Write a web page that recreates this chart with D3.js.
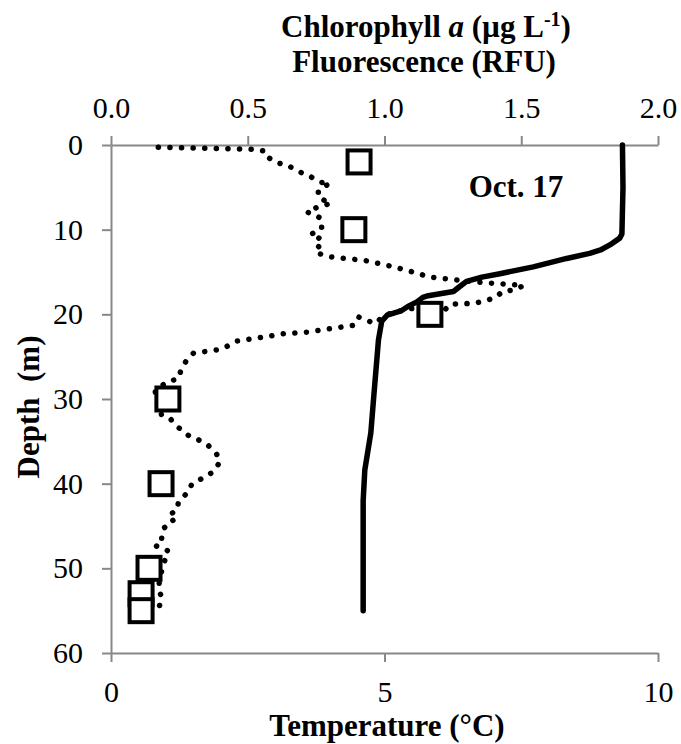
<!DOCTYPE html>
<html>
<head>
<meta charset="utf-8">
<script src="https://cdn.jsdelivr.net/npm/d3@7"></script>
<style>
  body { margin: 0; background: #fff; }
  svg text { font-family: "Liberation Serif", "Times New Roman", Tinos, "DejaVu Serif", serif; }
  .axis path, .axis line { stroke: #888; stroke-width: 2; }
  .axis text { font-size: 30px; fill: #000; }
  .title { font-size: 31px; font-weight: bold; }
</style>
</head>
<body>
<div id="graph"></div>
<script>
// temperature profile (bottom axis, °C)
var tempDepth = [0, 5, 10.5, 11, 11.8, 12.4, 12.8, 13.4, 14.4, 15.2, 15.6, 16.1, 16.6, 17.3, 17.8, 18.0, 18.5, 19.1, 19.6, 20.1, 20.8, 23, 30, 34, 36, 38.4, 42, 50, 55];
var tempC = [9.35, 9.36, 9.34, 9.3, 9.12, 8.95, 8.75, 8.33, 7.72, 7.11, 6.78, 6.5, 6.4, 6.26, 5.8, 5.7, 5.6, 5.42, 5.3, 5.05, 4.95, 4.89, 4.80, 4.75, 4.70, 4.64, 4.61, 4.61, 4.61];

// fluorescence profile (top axis, RFU)
var fluorDepth = [0.26, 0.5, 0.73, 1.36, 2.1, 2.34, 3.2, 3.7, 4.4, 4.5, 5.4, 6.2, 6.9, 7.3, 7.9, 8.4, 8.7, 9.9, 10.5, 10.8, 11.7, 12.25, 12.8, 13.2, 13.35, 13.6, 14.2, 14.8, 15.6, 15.9, 16.07, 16.3, 16.4, 16.6, 17.1, 17.3, 17.96, 18.35, 18.7, 18.8, 19.5, 19.3, 20.1, 21.1, 20.3, 21.3, 21.7, 21.9, 22.1, 22.3, 22.75, 23.15, 23.8, 24.2, 24.6, 25.4, 26.4, 27.6, 28.0, 29.0, 30.5, 31.9, 32.3, 33.2, 34.3, 34.8, 35.5, 36.5, 37.4, 38.6, 39.4, 40.06, 41.0, 41.7, 42.3, 43.2, 43.7, 44.4, 45.3, 46.5, 47.3, 47.96, 48.4, 49.6, 51, 52.4, 53.4, 55.0];
var fluorRFU = [0.173, 0.52, 0.563, 0.569, 0.606, 0.642, 0.691, 0.728, 0.764, 0.80, 0.758, 0.758, 0.804, 0.758, 0.716, 0.752, 0.77, 0.77, 0.734, 0.764, 0.746, 0.77, 0.758, 0.80, 0.837, 0.922, 1.008, 1.081, 1.166, 1.25, 1.294, 1.38, 1.43, 1.508, 1.477, 1.43, 1.41, 1.373, 1.33, 1.24, 1.22, 1.093, 1.0, 0.965, 0.904, 0.886, 0.80, 0.758, 0.716, 0.63, 0.545, 0.46, 0.423, 0.386, 0.301, 0.277, 0.258, 0.246, 0.204, 0.161, 0.17, 0.185, 0.216, 0.24, 0.283, 0.319, 0.356, 0.386, 0.399, 0.374, 0.332, 0.295, 0.283, 0.258, 0.246, 0.24, 0.21, 0.228, 0.191, 0.185, 0.161, 0.21, 0.204, 0.191, 0.18, 0.173, 0.185, 0.173];

// chlorophyll a samples (top axis, µg/L)
var chlDepth = [2, 10, 20, 30, 40, 50, 53, 55];
var chlA = [0.907, 0.888, 1.166, 0.208, 0.183, 0.139, 0.11, 0.11];

var topTicks = [0, 0.5, 1.0, 1.5, 2.0];
var bottomTicks = [0, 5, 10];
var depthTicks = [0, 10, 20, 30, 40, 50, 60];

var width = 681, height = 744;
var margin = {top: 145, right: 23, bottom: 91, left: 111};

var svg = d3.select('#graph')
            .append('svg')
            .attr('width', width)
            .attr('height', height);

var xTemp = d3.scaleLinear().domain([0, 10]).range([margin.left, width - margin.right]);
var xTop = d3.scaleLinear().domain([0, 2]).range([margin.left, width - margin.right]);
var yScale = d3.scaleLinear().domain([0, 60]).range([margin.top, height - margin.bottom]);

// axes
var gTop = svg.append('g')
  .attr('class', 'axis')
  .attr('transform', 'translate(0,' + margin.top + ')')
  .call(d3.axisTop(xTop).tickValues(topTicks).tickSize(9).tickSizeOuter(0).tickPadding(18).tickFormat(d3.format('.1f')));

var gBottom = svg.append('g')
  .attr('class', 'axis')
  .attr('transform', 'translate(0,' + (height - margin.bottom) + ')')
  .call(d3.axisBottom(xTemp).tickValues(bottomTicks).tickSize(9).tickSizeOuter(0).tickFormat(d3.format('d')));
gBottom.selectAll('text').attr('dy', null).attr('y', 49);

var gLeft = svg.append('g')
  .attr('class', 'axis')
  .attr('transform', 'translate(' + margin.left + ',0)')
  .call(d3.axisLeft(yScale).tickValues(depthTicks).tickSize(9).tickSizeOuter(0).tickPadding(19).tickFormat(d3.format('d')));

// d3 sets font-family on the axis group; drop it so the css font applies
svg.selectAll('.axis').attr('font-family', null).attr('font-size', null);
svg.selectAll('.axis .domain').attr('fill', 'none');

// fluorescence dotted line
var fluorData = fluorDepth.map(function(d, i) { return {depth: d, v: fluorRFU[i]}; });
var fluorLine = d3.line()
  .x(function(d) { return xTop(d.v); })
  .y(function(d) { return yScale(d.depth); });

svg.append('path')
  .datum(fluorData)
  .attr('d', fluorLine)
  .attr('fill', 'none')
  .attr('stroke', '#000')
  .attr('stroke-width', 5.5)
  .attr('stroke-linecap', 'round')
  .attr('stroke-dasharray', '0.1 11.5');

// temperature solid line
var tempData = tempDepth.map(function(d, i) { return {depth: d, v: tempC[i]}; });
var tempLine = d3.line()
  .x(function(d) { return xTemp(d.v); })
  .y(function(d) { return yScale(d.depth); });

svg.append('path')
  .datum(tempData)
  .attr('d', tempLine)
  .attr('fill', 'none')
  .attr('stroke', '#000')
  .attr('stroke-width', 5.5)
  .attr('stroke-linejoin', 'round')
  .attr('stroke-linecap', 'round');

// chlorophyll squares
var chlData = chlDepth.map(function(d, i) { return {depth: d, v: chlA[i]}; });
svg.selectAll('rect.chl')
  .data(chlData)
  .enter()
  .append('rect')
  .attr('class', 'chl')
  .attr('x', function(d) { return xTop(d.v) - 11.5; })
  .attr('y', function(d) { return yScale(d.depth) - 11.5; })
  .attr('width', 23)
  .attr('height', 23)
  .attr('fill', '#fff')
  .attr('stroke', '#000')
  .attr('stroke-width', 4);

// titles
var t1 = svg.append('text').attr('class', 'title').attr('x', 426).attr('y', 37).attr('text-anchor', 'middle');
t1.append('tspan').text('Chlorophyll ');
t1.append('tspan').attr('font-style', 'italic').text('a');
t1.append('tspan').text(' (µg L');
t1.append('tspan').attr('font-size', '20px').attr('dy', -11).text('-1');
t1.append('tspan').attr('dy', 11).text(')');

svg.append('text').attr('class', 'title').attr('x', 424).attr('y', 72)
  .attr('text-anchor', 'middle').text('Fluorescence (RFU)');

svg.append('text').attr('class', 'title').attr('x', 387).attr('y', 736)
  .attr('text-anchor', 'middle').text('Temperature (°C)');

svg.append('text').attr('class', 'title')
  .attr('transform', 'translate(39,407) rotate(-90)')
  .attr('text-anchor', 'middle')
  .style('white-space', 'pre')
  .text('Depth  (m)');

svg.append('text').attr('class', 'title').attr('x', 516).attr('y', 197)
  .attr('text-anchor', 'middle').text('Oct. 17');
</script>
</body>
</html>
